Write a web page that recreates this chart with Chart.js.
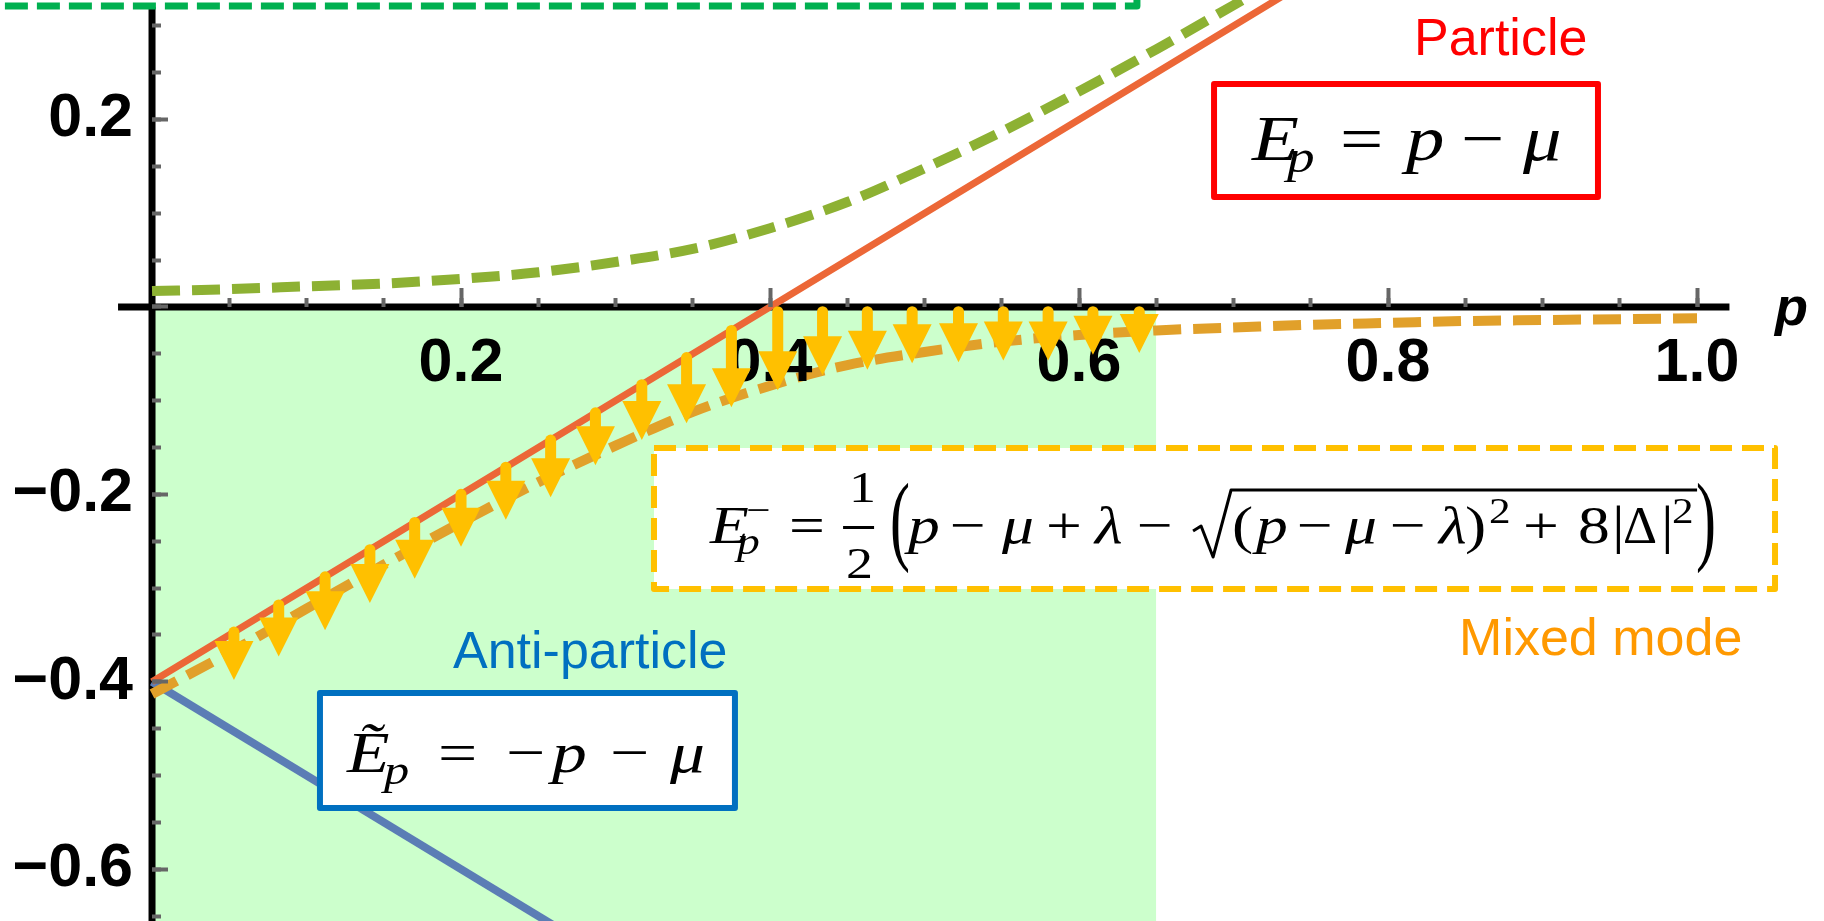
<!DOCTYPE html>
<html>
<head>
<meta charset="utf-8">
<script src="https://cdn.jsdelivr.net/npm/chart.js@4.4.1/dist/chart.umd.min.js"></script>
<style>
  html, body { margin: 0; padding: 0; background: #fff; }
  canvas { display: block; }
</style>
</head>
<body>
<canvas id="dispersion" width="1824" height="921"></canvas>
<script>
// momentum grid used by the two mixed branches
var momentum = [0, 0.05, 0.1, 0.15, 0.2, 0.25, 0.3, 0.35, 0.4, 0.45, 0.5,
                0.55, 0.6, 0.65, 0.7, 0.75, 0.8, 0.85, 0.9, 0.95, 1.0];
// lower branch E_p^- (mixed mode), read along the orange dashes
var mixedLower = [-0.413, -0.369, -0.322, -0.275, -0.230, -0.187, -0.148, -0.112, -0.084, -0.062, -0.048,
                  -0.037, -0.030, -0.025, -0.022, -0.019, -0.017, -0.015, -0.014, -0.013, -0.012];
// upper branch (green dashes), leaves the frame near p = 0.72
var mixedUpper = [0.017, 0.019, 0.022, 0.025, 0.030, 0.037, 0.048, 0.062, 0.084, 0.112, 0.148,
                  0.187, 0.230, 0.275, 0.322, 0.369];

// free particle E = p - mu and anti-particle -p - mu
var particleP = [0, 0.75];
var particleE = [-0.4, 0.35];
var antiP = [0, 0.3];
var antiE = [-0.4, -0.7];

// shaded momentum window below E = 0
var shadeP = [0, 0.65];

// downward shift arrows: where they start and where the head ends
var arrowP    = [0.053, 0.082, 0.112, 0.141, 0.170, 0.200, 0.229, 0.258, 0.287, 0.317, 0.346,
                 0.375, 0.405, 0.434, 0.463, 0.492, 0.522, 0.551, 0.580, 0.609, 0.639];
var arrowFrom = [-0.347, -0.318, -0.288, -0.259, -0.230, -0.200, -0.171, -0.142, -0.113, -0.083, -0.054,
                 -0.025, -0.005, -0.005, -0.005, -0.005, -0.005, -0.005, -0.005, -0.005, -0.005];
var arrowTo   = [-0.398, -0.373, -0.345, -0.316, -0.290, -0.256, -0.227, -0.203, -0.169, -0.142, -0.124,
                 -0.107, -0.089, -0.073, -0.067, -0.060, -0.059, -0.057, -0.057, -0.051, -0.049];

// axis lines (they stop short of the frame)
var axisXSpan = [-0.022, 1.021];
var axisYSpan = [0.320, -0.70];

// labelled ticks
var xTickLabels = [0.2, 0.4, 0.6, 0.8, 1.0];
var yTickLabels = [-0.6, -0.4, -0.2, 0.2];

var X_MIN = -0.0984, X_MAX = 1.0822;
var Y_MIN = -0.6553, Y_MAX = 0.3276;

function zip(xs, ys) {
  var out = [];
  for (var i = 0; i < xs.length && i < ys.length; i++) out.push({ x: xs[i], y: ys[i] });
  return out;
}

function flatten(scale) {
  if (scale.isHorizontal()) scale.height = 0; else scale.width = 0;
  scale.paddingLeft = scale.paddingRight = scale.paddingTop = scale.paddingBottom = 0;
}

function tickColorIn(lo, hi) {
  return function (c) {
    var v = c.tick ? c.tick.value : NaN;
    return (v >= lo - 1e-9 && v <= hi + 1e-9) ? '#666666' : 'rgba(0,0,0,0)';
  };
}

function labelFrom(list) {
  return function (v) {
    for (var i = 0; i < list.length; i++) {
      if (Math.abs(list[i] - v) < 1e-6) return list[i].toFixed(1).replace('-', '\u2212');
    }
    return '';
  };
}

var tickFont = { family: 'Liberation Sans', weight: 'bold', size: 61, lineHeight: 1 };

function markScale(axis, pos, step, len, lo, hi) {
  return {
    type: 'linear', axis: axis, position: pos,
    min: axis === 'x' ? X_MIN : Y_MIN, max: axis === 'x' ? X_MAX : Y_MAX,
    border: { display: false },
    grid: { drawOnChartArea: false, drawTicks: true, tickLength: -len, tickWidth: 4,
            tickColor: tickColorIn(lo, hi), z: 1 },
    ticks: { display: false, stepSize: step, includeBounds: false, autoSkip: false },
    afterFit: flatten
  };
}

function labelScale(axis, pos, list, pad) {
  return {
    type: 'linear', axis: axis, position: pos,
    min: axis === 'x' ? X_MIN : Y_MIN, max: axis === 'x' ? X_MAX : Y_MAX,
    border: { display: false },
    grid: { display: false, drawTicks: false, drawOnChartArea: false },
    ticks: { stepSize: 0.2, includeBounds: false, autoSkip: false, maxRotation: 0,
             padding: pad, color: '#000', font: tickFont, callback: labelFrom(list), z: 1 },
    afterFit: flatten
  };
}

// arrows, boxed formulas and captions go on top of everything
var overlay = {
  id: 'overlay',
  afterDraw: function (chart) {
    var ctx = chart.ctx;
    var sx = chart.scales.x, sy = chart.scales.y;
    var px = function (v) { return sx.getPixelForValue(v); };
    var py = function (v) { return sy.getPixelForValue(v); };

    ctx.save();

    // yellow arrows
    var head = 39, half = 19.5;
    ctx.fillStyle = ctx.strokeStyle = '#FFC000';
    for (var i = 0; i < arrowP.length; i++) {
      var x = px(arrowP[i]), y0 = py(arrowFrom[i]), y1 = py(arrowTo[i]);
      ctx.lineWidth = 11;
      ctx.lineCap = 'round';
      ctx.beginPath();
      ctx.moveTo(x, y0);
      ctx.lineTo(x, y1 - head + 4);
      ctx.stroke();
      ctx.beginPath();
      ctx.moveTo(x - half, y1 - head);
      ctx.lineTo(x + half, y1 - head);
      ctx.lineTo(x, y1);
      ctx.closePath();
      ctx.fill();
    }
    ctx.lineCap = 'butt';

    function box(x0, y0, x1, y1, color, width, dash) {
      ctx.setLineDash(dash || []);
      ctx.lineJoin = 'round';
      ctx.fillStyle = '#fff';
      ctx.fillRect(x0, y0, x1 - x0, y1 - y0);
      ctx.strokeStyle = color;
      ctx.lineWidth = width;
      ctx.strokeRect(x0, y0, x1 - x0, y1 - y0);
      ctx.setLineDash([]);
    }

    // math glyphs, a little wider than the plain serif
    function runs(x0, y0, items) {
      ctx.fillStyle = '#000';
      ctx.textBaseline = 'alphabetic';
      ctx.textAlign = 'left';
      items.forEach(function (it) {
        ctx.font = it[3];
        ctx.save();
        ctx.translate(x0 + it[1], y0 + it[2]);
        ctx.scale(it[4] || 1.2, 1);
        ctx.fillText(it[0], 0, 0);
        ctx.restore();
      });
    }

    // green dashed frame cut by the top edge
    ctx.setLineDash([23, 9]);
    ctx.lineJoin = 'round';
    ctx.strokeStyle = '#00B050';
    ctx.lineWidth = 7;
    ctx.strokeRect(-60, -120, px(0.6375) + 60, py(0.3212) + 120);
    ctx.setLineDash([]);

    // particle
    ctx.font = '52px "Liberation Sans"';
    ctx.fillStyle = '#FF0000';
    ctx.fillText('Particle', px(0.8168), py(0.2689));
    box(px(0.6874), py(0.2380), px(0.9359), py(0.1174), '#FF0000', 6);
    var it64 = 'italic 64px "Liberation Serif"', up64 = '64px "Liberation Serif"';
    runs(px(0.712), py(0.1569), [
      ['E', 0, 0, it64], ['p', 35, 12, 'italic 46px "Liberation Serif"'],
      ['=', 88, 0, up64], ['p', 154, 0, it64], ['\u2212', 209, 0, up64], ['\u03BC', 271, 0, it64]
    ]);

    // anti-particle
    ctx.font = '52px "Liberation Sans"';
    ctx.fillStyle = '#0070C0';
    ctx.fillText('Anti-particle', px(0.1948), py(-0.3853));
    box(px(0.1087), py(-0.4120), px(0.3773), py(-0.5347), '#0070C0', 6);
    var it58 = 'italic 58px "Liberation Serif"', up58 = '58px "Liberation Serif"';
    runs(px(0.1262), py(-0.4963), [
      ['\u1EBC', 0, 0, it58], ['p', 37, 12, 'italic 42px "Liberation Serif"'],
      ['=', 91, 0, up58], ['\u2212', 159, 0, up58], ['p', 205, 0, it58],
      ['\u2212', 263, 0, up58], ['\u03BC', 323, 0, it58]
    ]);

    // mixed mode
    box(px(0.3249), py(-0.1505), px(1.0505), py(-0.3010), '#FFC000', 6, [22, 10]);
    var fx = px(0.3612), fy = py(-0.2519);
    var it53 = 'italic 53px "Liberation Serif"', up53 = '53px "Liberation Serif"';
    var up45 = '45px "Liberation Serif"', sm = '36px "Liberation Serif"';
    var big = '100px "Liberation Serif"';
    runs(fx, fy, [
      ['E', 0, 0, it53], ['p', 27, 11, 'italic 38px "Liberation Serif"'], ['\u2212', 36, -21, sm],
      ['=', 79, 0, up53], ['1', 139, -41, up45], ['2', 136, 35, up45],
      ['(', 180, 9, big, 0.6],
      ['p', 198, 0, it53], ['\u2212', 240, 0, up53], ['\u03BC', 292, 0, it53], ['+', 336, 0, up53],
      ['\u03BB', 385, 0, it53], ['\u2212', 427, 0, up53],
      ['(', 522, 0, up53], ['p', 546, 0, it53], ['\u2212', 587, 0, up53], ['\u03BC', 635, 0, it53],
      ['\u2212', 680, 0, up53], ['\u03BB', 729, 0, it53], [')', 755, 0, up53], ['2', 779, -20, sm],
      ['+', 813, 0, up53], ['8', 868, 0, up53], ['|', 902, 0, up53], ['\u0394', 913, 0, up53, 1.0],
      ['|', 951, 0, up53], ['2', 962, -20, sm],
      [')', 986, 9, big, 0.6]
    ]);
    ctx.fillRect(fx + 133, fy - 17, 31, 3);
    ctx.strokeStyle = '#000';
    ctx.lineWidth = 3;
    ctx.beginPath();
    ctx.moveTo(fx + 483, fy - 12);
    ctx.lineTo(fx + 491, fy - 17);
    ctx.lineTo(fx + 503, fy + 14);
    ctx.lineTo(fx + 521, fy - 53);
    ctx.lineTo(fx + 987, fy - 53);
    ctx.stroke();

    ctx.font = '52px "Liberation Sans"';
    ctx.fillStyle = '#FF9900';
    ctx.fillText('Mixed mode', px(0.8460), py(-0.3714));

    // axis name
    ctx.font = 'italic bold 54px "Liberation Sans"';
    ctx.fillStyle = '#000';
    ctx.fillText('p', px(1.0505), py(-0.0192));

    ctx.restore();
  }
};

var curve = function (data, color, width, dash, order) {
  return {
    data: data, showLine: true, borderColor: color, borderWidth: width,
    borderDash: dash || [], pointRadius: 0, fill: false,
    cubicInterpolationMode: 'monotone', order: order
  };
};

new Chart(document.getElementById('dispersion'), {
  type: 'scatter',
  data: {
    datasets: [
      {
        data: zip(shadeP, [0, 0]), showLine: true, borderWidth: 0, pointRadius: 0,
        backgroundColor: '#CCFFCC', fill: 'start', order: 10
      },
      curve(zip(axisXSpan, [0, 0]), '#000', 7, null, 9),
      curve(zip([0, 0], axisYSpan), '#000', 7, null, 9),
      curve(zip(antiP, antiE), '#5B7DB5', 8, null, 5),
      curve(zip(particleP, particleE), '#EC6737', 7, null, 4),
      curve(zip(momentum, mixedLower), '#E1A02A', 10, [28, 12], 3),
      curve(zip(momentum.slice(0, mixedUpper.length), mixedUpper), '#8DB133', 10, [28, 12], 2)
    ]
  },
  options: {
    responsive: false,
    animation: false,
    devicePixelRatio: 1,
    events: [],
    layout: { padding: 0 },
    plugins: { legend: { display: false }, tooltip: { enabled: false } },
    scales: {
      x: markScale('x', { y: 0 }, 0.05, 9, 0.01, 1.0),
      xMajor: markScale('x', { y: 0 }, 0.2, 19, 0.01, 1.0),
      xLab: labelScale('x', { y: 0 }, xTickLabels, 26.5),
      y: markScale('y', { x: 0 }, 0.05, 9, -1, 1),
      yMajor: markScale('y', { x: 0 }, 0.2, 16, -1, 1),
      yLab: labelScale('y', { x: -0.0123 }, yTickLabels, 0)
    }
  },
  plugins: [overlay]
});
</script>
</body>
</html>
